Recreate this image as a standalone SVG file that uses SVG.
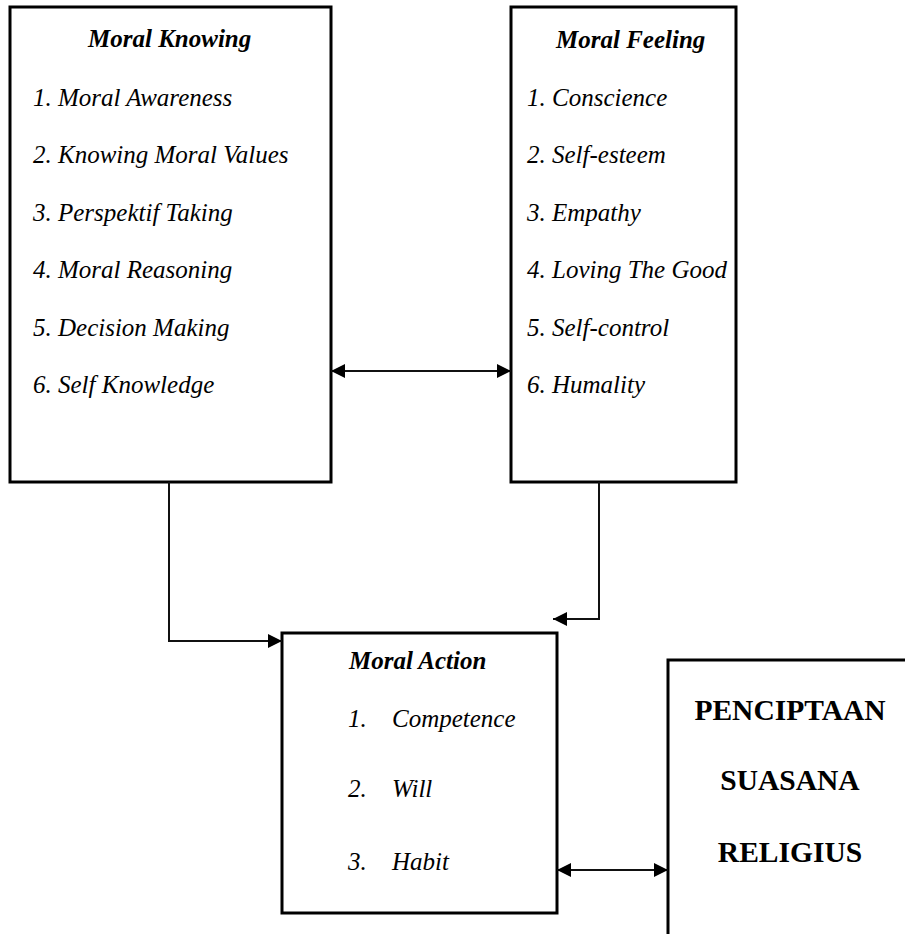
<svg xmlns="http://www.w3.org/2000/svg" width="905" height="934" viewBox="0 0 905 934">
  <style>
    .box { fill: #ffffff; stroke: #000000; stroke-width: 3; }
    .title { font-family: "Liberation Serif", "Times New Roman", serif; font-size: 25px; font-weight: bold; font-style: italic; fill: #000; }
    .item { font-family: "Liberation Serif", "Times New Roman", serif; font-size: 25px; font-style: italic; fill: #000; }
    .big { font-family: "Liberation Serif", "Times New Roman", serif; font-size: 29.5px; font-weight: bold; fill: #000; text-anchor: middle; }
    .conn { fill: none; stroke: #111; stroke-width: 2; }
  </style>
  <defs>
    <marker id="arrow" markerUnits="userSpaceOnUse" markerWidth="16" markerHeight="14" refX="14" refY="7" orient="auto-start-reverse" viewBox="0 0 16 14">
      <path d="M0,0 L14,7 L0,14 Z" fill="#000"/>
    </marker>
  </defs>
  <rect width="905" height="934" fill="#ffffff"/>

  <g id="moral-knowing">
    <rect class="box" x="10" y="7" width="321" height="475"/>
    <text class="title" x="88" y="47">Moral Knowing</text>
    <text class="item" x="33" y="106">1. Moral Awareness</text>
    <text class="item" x="33" y="163">2. Knowing Moral Values</text>
    <text class="item" x="33" y="221">3. Perspektif Taking</text>
    <text class="item" x="33" y="278">4. Moral Reasoning</text>
    <text class="item" x="33" y="336">5. Decision Making</text>
    <text class="item" x="33" y="393">6. Self Knowledge</text>
  </g>

  <g id="moral-feeling">
    <rect class="box" x="511" y="7" width="225" height="475"/>
    <text class="title" x="556" y="48">Moral Feeling</text>
    <text class="item" x="527" y="106">1. Conscience</text>
    <text class="item" x="527" y="163">2. Self-esteem</text>
    <text class="item" x="527" y="221">3. Empathy</text>
    <text class="item" x="527" y="278">4. Loving The Good</text>
    <text class="item" x="527" y="336">5. Self-control</text>
    <text class="item" x="527" y="393">6. Humality</text>
  </g>

  <g id="moral-action">
    <rect class="box" x="282" y="633" width="275" height="280"/>
    <text class="title" x="349" y="669">Moral Action</text>
    <text class="item" x="348" y="727">1.</text>
    <text class="item" x="392" y="727">Competence</text>
    <text class="item" x="348" y="797">2.</text>
    <text class="item" x="392" y="797">Will</text>
    <text class="item" x="348" y="870">3.</text>
    <text class="item" x="392" y="870">Habit</text>
  </g>

  <g id="penciptaan">
    <rect class="box" x="668" y="660" width="300" height="320"/>
    <text class="big" x="790" y="720">PENCIPTAAN</text>
    <text class="big" x="790" y="790">SUASANA</text>
    <text class="big" x="790" y="862">RELIGIUS</text>
  </g>

  <g id="connectors">
    <path class="conn" d="M331,371 H511" marker-start="url(#arrow)" marker-end="url(#arrow)"/>
    <path class="conn" d="M169,482 V641 H282" marker-end="url(#arrow)"/>
    <path class="conn" d="M599,482 V619 H553" marker-end="url(#arrow)"/>
    <path class="conn" d="M557,870 H668" marker-start="url(#arrow)" marker-end="url(#arrow)"/>
  </g>
</svg>
